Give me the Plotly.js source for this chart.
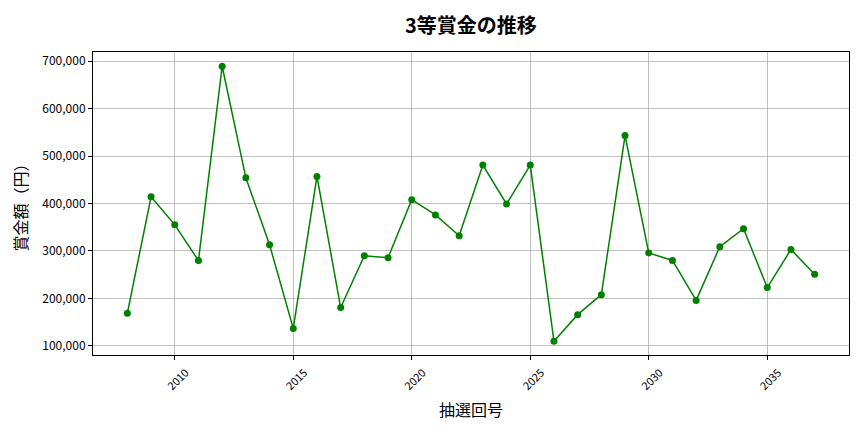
<!DOCTYPE html>
<html>
<head>
<meta charset="utf-8">
<script src="https://cdn.plot.ly/plotly-3.0.1.min.js"></script>
<style>
  body { margin: 0; background: #fff; }
  #chart { width: 864px; height: 432px; }
</style>
</head>
<body>
<div id="chart"></div>
<script>
// draw numbers (抽選回号)
const drawNos = [2008, 2009, 2010, 2011, 2012, 2013, 2014, 2015, 2016, 2017,
                 2018, 2019, 2020, 2021, 2022, 2023, 2024, 2025, 2026, 2027,
                 2028, 2029, 2030, 2031, 2032, 2033, 2034, 2035, 2036, 2037];
// 3rd prize amounts (yen)
const prize3 = [169000, 414000, 355000, 280000, 689000, 454000, 313000, 137000, 457000, 181000,
                290000, 286000, 408000, 376000, 332000, 481000, 399000, 481000, 110000, 166000,
                208000, 543000, 296000, 280000, 196000, 309000, 347000, 223000, 303000, 251000];
const xTicks = [2010, 2015, 2020, 2025, 2030, 2035];
const yTicks = [100000, 200000, 300000, 400000, 500000, 600000, 700000];

const FONT = '"Noto Sans CJK JP", "Noto Sans", sans-serif';

const trace = {
    x: drawNos,
    y: prize3,
    type: 'scatter',
    mode: 'lines+markers',
    line: { color: '#008000', width: 1.5 },
    marker: { color: '#008000', size: 7 }
};

const layout = {
    width: 864,
    height: 432,
    margin: { l: 93, r: 15, t: 52, b: 77 },
    paper_bgcolor: '#fff',
    plot_bgcolor: '#fff',
    font: { family: FONT, color: '#000', size: 12 },
    showlegend: false,
    title: {
        text: '<b>3等賞金の推移</b>',
        font: { family: FONT, size: 20, color: '#000' },
        x: 0.545,
        xanchor: 'center',
        y: 0.94,
        yanchor: 'middle'
    },
    xaxis: {
        range: [2006.55, 2038.45],
        tickvals: xTicks,
        ticktext: xTicks.map(String),
        tickangle: -45,
        ticklabelshift: 11,
        ticklabelstandoff: 2,
        ticks: 'outside',
        ticklen: 4,
        tickcolor: '#000',
        showgrid: true,
        gridcolor: '#b0b0b0',
        gridwidth: 0.8,
        showline: true,
        linecolor: '#000',
        linewidth: 1,
        mirror: true,
        zeroline: false,
        tickfont: { family: FONT, size: 11 },
        title: {
            text: '抽選回号',
            font: { family: FONT, size: 16 },
            standoff: 12
        }
    },
    yaxis: {
        range: [81000, 719000],
        tickvals: yTicks,
        ticktext: yTicks.map(v => v.toLocaleString('en-US')),
        ticks: 'outside',
        ticklen: 4,
        tickcolor: '#000',
        showgrid: true,
        gridcolor: '#b0b0b0',
        gridwidth: 0.8,
        showline: true,
        linecolor: '#000',
        linewidth: 1,
        mirror: true,
        zeroline: false,
        tickfont: { family: FONT, size: 12 },
        title: {
            text: '賞金額（円）',
            font: { family: FONT, size: 16 },
            standoff: 10
        }
    }
};

Plotly.newPlot('chart', [trace], layout, { displayModeBar: false, staticPlot: true });
</script>
</body>
</html>
